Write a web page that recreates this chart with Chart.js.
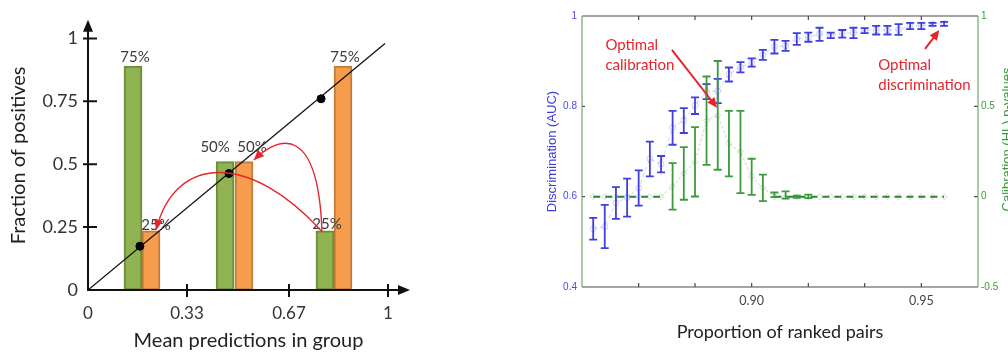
<!DOCTYPE html>
<html>
<head>
<meta charset="utf-8">
<title>Calibration and discrimination</title>
<script src="https://cdn.jsdelivr.net/npm/chart.js@4.4.1/dist/chart.umd.min.js"></script>
<style>
    html, body { margin: 0; padding: 0; background: #fff; overflow: hidden; }
    #wrap { position: relative; width: 1008px; height: 352px; }
    #calibChart { position: absolute; left: 0; top: 0; }
    #rankChart { position: absolute; left: 540px; top: 0; }
</style>
</head>
<body>
<div id="wrap">
    <canvas id="calibChart" width="440" height="352"></canvas>
    <canvas id="rankChart" width="468" height="352"></canvas>
</div>
<script>
// ---- left panel data (reliability diagram) ----
const greenX = [0.15, 0.457, 0.79];
const greenY = [0.89, 0.51, 0.235];
const greenLabels = ['75%', '50%', '25%'];
const orangeX = [0.21, 0.52, 0.85];
const orangeY = [0.235, 0.51, 0.89];
const orangeLabels = ['25%', '50%', '75%'];
const groupMeanX = [0.173, 0.47, 0.777];
const groupMeanY = [0.174, 0.463, 0.76];
const diagonalX = [0, 0.99];
const diagonalY = [0, 0.98];
const calibXTicks = [0, 0.33, 0.67, 1];
const calibXTickLabels = ['0', '0.33', '0.67', '1'];
const calibYTicks = [0, 0.25, 0.5, 0.75, 1];
const calibYTickLabels = ['0', '0.25', '0.5', '0.75', '1'];
// red curved arrows, control points in data units
const moveArrows = [
    [[0.78, 0.232], [0.54, 0.548], [0.29, 0.54], [0.227, 0.239]],
    [[0.78, 0.232], [0.767, 0.656], [0.64, 0.618], [0.553, 0.517]]
];

// ---- right panel data (AUC and HL p-values vs proportion of ranked pairs) ----
const rankedPairs = [0.8533, 0.8567, 0.86, 0.8633, 0.8667, 0.87, 0.8733, 0.8767,
    0.88, 0.8833, 0.8867, 0.89, 0.8933, 0.8967, 0.90, 0.9033,
    0.9067, 0.91, 0.9133, 0.9167, 0.92, 0.9233, 0.9267, 0.93,
    0.9333, 0.9367, 0.94, 0.9433, 0.9467, 0.95, 0.9533, 0.9567];
const aucMean = [0.529, 0.534, 0.586, 0.598, 0.619, 0.684, 0.672, 0.753,
    0.769, 0.802, 0.833, 0.834, 0.871, 0.887, 0.897, 0.914,
    0.932, 0.934, 0.949, 0.953, 0.960, 0.957, 0.961, 0.963,
    0.968, 0.969, 0.969, 0.970, 0.978, 0.978, 0.982, 0.983];
const aucLow = [0.505, 0.486, 0.551, 0.556, 0.580, 0.645, 0.654, 0.715,
    0.741, 0.783, 0.816, 0.807, 0.855, 0.875, 0.888, 0.903,
    0.917, 0.923, 0.936, 0.943, 0.945, 0.951, 0.952, 0.951,
    0.962, 0.959, 0.959, 0.958, 0.971, 0.971, 0.978, 0.978];
const aucHigh = [0.553, 0.582, 0.621, 0.640, 0.658, 0.722, 0.690, 0.790,
    0.796, 0.820, 0.849, 0.861, 0.886, 0.898, 0.906, 0.925,
    0.947, 0.945, 0.962, 0.963, 0.974, 0.963, 0.969, 0.974,
    0.973, 0.978, 0.978, 0.982, 0.985, 0.985, 0.985, 0.987];
const hlMean = [0, 0, 0, 0, 0, 0, 0, 0.057,
    0.129, 0.193, 0.421, 0.450, 0.294, 0.248, 0.110, 0.049,
    0, 0, 0, 0, 0, 0, 0, 0,
    0, 0, 0, 0, 0, 0, 0, 0];
const hlLow = [0, 0, 0, 0, 0, 0, 0, -0.072,
    -0.017, 0.001, 0.176, 0.149, 0.112, 0.020, 0.010, -0.025,
    -0.002, -0.011, -0.006, -0.008, 0, 0, 0, 0,
    0, 0, 0, 0, 0, 0, 0, 0];
const hlHigh = [0, 0, 0, 0, 0, 0, 0, 0.186,
    0.274, 0.385, 0.665, 0.751, 0.475, 0.475, 0.210, 0.122,
    0.023, 0.029, 0.005, 0.011, 0, 0, 0, 0,
    0, 0, 0, 0, 0, 0, 0, 0];
const rankXTicks = [0.90, 0.95];
const rankXTickLabels = ['0.90', '0.95'];
const rankXMarks = [0.8667, 0.8833, 0.90, 0.9167, 0.9333, 0.95];
const aucTicks = [0.4, 0.6, 0.8, 1];
const aucTickLabels = ['0.4', '0.6', '0.8', '1'];
const hlTicks = [-0.5, 0, 0.5, 1];
const hlTickLabels = ['-0.5', '0', '0.5', '1'];

const LEFT_FONT = 'Lato, "Open Sans", sans-serif';
const MATLAB_FONT = '"Liberation Sans", Arial, sans-serif';

function toPoints(xs, ys) {
    return xs.map((v, i) => ({ x: v, y: ys[i] }));
}

function setTicks(values) {
    return function(scale) {
        scale.ticks = values.map(v => ({ value: v }));
    };
}

function labelFor(values, labels) {
    return function(value) {
        const i = values.findIndex(v => Math.abs(v - value) < 1e-6);
        return i >= 0 ? labels[i] : '';
    };
}

function arrowHead(ctx, fromX, fromY, toX, toY, len, half) {
    const a = Math.atan2(toY - fromY, toX - fromX);
    ctx.beginPath();
    ctx.moveTo(toX, toY);
    ctx.lineTo(toX - len * Math.cos(a) + half * Math.sin(a), toY - len * Math.sin(a) - half * Math.cos(a));
    ctx.lineTo(toX - len * Math.cos(a) - half * Math.sin(a), toY - len * Math.sin(a) + half * Math.cos(a));
    ctx.closePath();
    ctx.fill();
}

// no chart.js grid, we draw our own axes
const noGrid = { display: false, drawTicks: false };

// axes with arrows, cross tick marks, bar labels and red arrows for the left panel
const calibDecor = {
    id: 'calibDecor',
    afterDatasetsDraw(chart) {
        const { ctx, chartArea, scales: { x, y } } = chart;
        const x0 = x.getPixelForValue(0);
        const y0 = y.getPixelForValue(0);
        ctx.save();

        // bar labels
        ctx.font = '15px ' + LEFT_FONT;
        ctx.fillStyle = '#3a3a3a';
        ctx.textAlign = 'center';
        ctx.textBaseline = 'alphabetic';
        const nudges = [[[2, 4], [-10, 10], [2, 2]], [[5, 1], [8, 10], [2, 4]]];
        [[0, greenLabels], [1, orangeLabels]].forEach(([di, labels]) => {
            chart.getDatasetMeta(di + 3).data.forEach((bar, i) => {
                const [dx, dy] = nudges[di][i];
                ctx.fillText(labels[i], bar.x + dx, bar.y - dy);
            });
        });

        // red curved arrows
        ctx.strokeStyle = '#e8232a';
        ctx.fillStyle = '#e8232a';
        ctx.lineWidth = 1.4;
        moveArrows.forEach(pts => {
            const p = pts.map(([vx, vy]) => [x.getPixelForValue(vx), y.getPixelForValue(vy)]);
            ctx.beginPath();
            ctx.moveTo(p[0][0], p[0][1]);
            ctx.bezierCurveTo(p[1][0], p[1][1], p[2][0], p[2][1], p[3][0], p[3][1]);
            ctx.stroke();
            arrowHead(ctx, p[2][0], p[2][1], p[3][0], p[3][1], 10, 4.5);
        });

        // axes
        ctx.strokeStyle = '#111';
        ctx.fillStyle = '#111';
        ctx.lineWidth = 2;
        ctx.beginPath();
        ctx.moveTo(x0 - 1, y0);
        ctx.lineTo(chartArea.right - 8, y0);
        ctx.moveTo(x0, y0 + 1);
        ctx.lineTo(x0, chartArea.top + 8);
        ctx.stroke();
        arrowHead(ctx, x0, y0, chartArea.right + 1, y0, 12, 5);
        arrowHead(ctx, x0, y0, x0, chartArea.top - 1, 12, 5);

        ctx.beginPath();
        calibYTicks.filter(v => v > 0).forEach(v => {
            const py = y.getPixelForValue(v);
            ctx.moveTo(x0 - 5, py);
            ctx.lineTo(x0 + 9, py);
        });
        calibXTicks.filter(v => v > 0).forEach(v => {
            const px = x.getPixelForValue(v);
            ctx.moveTo(px, y0 - 6);
            ctx.lineTo(px, y0 + 7);
        });
        ctx.stroke();
        ctx.restore();
    }
};

new Chart(document.getElementById('calibChart'), {
    type: 'bar',
    data: {
        datasets: [
            {
                type: 'line',
                data: toPoints(diagonalX, diagonalY),
                borderColor: '#111',
                borderWidth: 1.3,
                pointRadius: 0,
                order: 0
            },
            {
                type: 'scatter',
                data: toPoints(groupMeanX, groupMeanY),
                pointRadius: 4,
                pointBackgroundColor: '#000',
                pointBorderColor: '#000',
                order: 0
            },
            {
                // placeholder keeps bar datasets at fixed indices 3 and 4
                type: 'scatter',
                data: [],
                order: 0
            },
            {
                data: toPoints(greenX, greenY),
                backgroundColor: '#8fb350',
                borderColor: '#6c8c3a',
                borderWidth: 2,
                borderSkipped: false,
                barThickness: 18,
                grouped: false,
                order: 1
            },
            {
                data: toPoints(orangeX, orangeY),
                backgroundColor: '#f59d4c',
                borderColor: '#c47c3c',
                borderWidth: 2,
                borderSkipped: false,
                barThickness: 18,
                grouped: false,
                order: 1
            }
        ]
    },
    options: {
        responsive: false,
        animation: false,
        layout: { padding: { top: 13, right: 31, left: 0, bottom: 0 } },
        plugins: { legend: { display: false }, tooltip: { enabled: false } },
        scales: {
            x: {
                type: 'linear',
                min: 0,
                max: 1.07,
                offset: false,
                grid: noGrid,
                border: { display: false },
                afterBuildTicks: setTicks(calibXTicks),
                afterFit(scale) { scale.height = 62; },
                ticks: {
                    callback: labelFor(calibXTicks, calibXTickLabels),
                    color: '#333',
                    font: { family: LEFT_FONT, size: 17 },
                    padding: 13,
                    maxRotation: 0
                },
                title: {
                    display: true,
                    text: 'Mean predictions in group',
                    color: '#222',
                    font: { family: LEFT_FONT, size: 20, lineHeight: 1.1 },
                    padding: 0
                }
            },
            y: {
                type: 'linear',
                min: 0,
                max: 1.07,
                grid: noGrid,
                border: { display: false },
                afterBuildTicks: setTicks(calibYTicks),
                afterFit(scale) { scale.width = 88; },
                ticks: {
                    callback: labelFor(calibYTicks, calibYTickLabels),
                    color: '#333',
                    font: { family: LEFT_FONT, size: 18 },
                    padding: 10
                },
                title: {
                    display: true,
                    text: 'Fraction of positives',
                    color: '#222',
                    font: { family: LEFT_FONT, size: 20, lineHeight: 1.2 },
                    padding: { top: 7, bottom: 0 }
                }
            }
        }
    },
    plugins: [calibDecor]
});

// frame, tick marks, error bars and annotations for the right panel
const rankDecor = {
    id: 'rankDecor',
    afterDatasetsDraw(chart) {
        const { ctx, chartArea: ca, scales: { x, yAuc, yHl } } = chart;
        ctx.save();

        // error bars
        const bars = [
            { axis: yAuc, low: aucLow, high: aucHigh, color: '#3f3fe0' },
            { axis: yHl, low: hlLow, high: hlHigh, color: '#3c9a3c' }
        ];
        bars.forEach(b => {
            ctx.strokeStyle = b.color;
            ctx.lineWidth = 1.8;
            ctx.beginPath();
            rankedPairs.forEach((v, i) => {
                if (b.high[i] - b.low[i] <= 0) return;
                const px = x.getPixelForValue(v);
                const top = b.axis.getPixelForValue(b.high[i]);
                const bot = b.axis.getPixelForValue(b.low[i]);
                ctx.moveTo(px, top);
                ctx.lineTo(px, bot);
                ctx.moveTo(px - 4, top);
                ctx.lineTo(px + 4, top);
                ctx.moveTo(px - 4, bot);
                ctx.lineTo(px + 4, bot);
            });
            ctx.stroke();
        });

        // frame
        ctx.lineWidth = 1.2;
        ctx.strokeStyle = '#4a4a4a';
        ctx.beginPath();
        ctx.moveTo(ca.left, ca.top);
        ctx.lineTo(ca.right, ca.top);
        ctx.moveTo(ca.left, ca.bottom);
        ctx.lineTo(ca.right, ca.bottom);
        rankXMarks.forEach(v => {
            const px = x.getPixelForValue(v);
            ctx.moveTo(px, ca.top);
            ctx.lineTo(px, ca.top + 4);
            ctx.moveTo(px, ca.bottom);
            ctx.lineTo(px, ca.bottom - 4);
        });
        [0.6, 0.8].forEach(v => {
            const py = yAuc.getPixelForValue(v);
            ctx.moveTo(ca.left, py);
            ctx.lineTo(ca.left + 3, py);
        });
        [0, 0.5].forEach(v => {
            const py = yHl.getPixelForValue(v);
            ctx.moveTo(ca.right, py);
            ctx.lineTo(ca.right - 4, py);
        });
        ctx.stroke();
        ctx.strokeStyle = '#6aac6a';
        ctx.beginPath();
        ctx.moveTo(ca.left, ca.top);
        ctx.lineTo(ca.left, ca.bottom);
        ctx.moveTo(ca.right, ca.top);
        ctx.lineTo(ca.right, ca.bottom);
        ctx.stroke();

        // annotations
        ctx.fillStyle = '#e8232a';
        ctx.strokeStyle = '#e8232a';
        ctx.font = '15px ' + LEFT_FONT;
        ctx.textAlign = 'left';
        ctx.textBaseline = 'middle';
        const notes = [
            { at: [0.8569, 0.936], lines: ['Optimal', 'calibration'], from: [0.8765, 0.925], to: [0.8898, 0.797] },
            { at: [0.9373, 0.892], lines: ['Optimal', 'discrimination'], from: [0.9511, 0.927], to: [0.9553, 0.969] }
        ];
        notes.forEach(n => {
            const tx = x.getPixelForValue(n.at[0]);
            const ty = yAuc.getPixelForValue(n.at[1]);
            n.lines.forEach((s, i) => ctx.fillText(s, tx, ty + i * 20));
            const fx = x.getPixelForValue(n.from[0]), fy = yAuc.getPixelForValue(n.from[1]);
            const ex = x.getPixelForValue(n.to[0]), ey = yAuc.getPixelForValue(n.to[1]);
            ctx.lineWidth = 2;
            ctx.beginPath();
            ctx.moveTo(fx, fy);
            ctx.lineTo(ex - (ex - fx) * 0.12, ey - (ey - fy) * 0.12);
            ctx.stroke();
            arrowHead(ctx, fx, fy, ex, ey, 10, 4.5);
        });

        // right axis title, cut by the window edge like the original
        ctx.fillStyle = '#3c9a3c';
        ctx.font = '13px ' + MATLAB_FONT;
        ctx.textAlign = 'center';
        ctx.textBaseline = 'top';
        ctx.translate(chart.width - 7, (ca.top + ca.bottom) / 2 - 12);
        ctx.rotate(-Math.PI / 2);
        ctx.fillText('Calibration (HL) p-values', 0, 0);
        ctx.restore();
    }
};

new Chart(document.getElementById('rankChart'), {
    type: 'line',
    data: {
        datasets: [
            {
                label: 'Discrimination (AUC)',
                data: toPoints(rankedPairs, aucMean),
                yAxisID: 'yAuc',
                borderColor: 'rgba(120, 130, 230, 0.35)',
                borderWidth: 1,
                borderDash: [4, 3],
                pointStyle: 'circle',
                pointRadius: 3,
                pointBorderWidth: 1,
                pointBorderColor: 'rgba(120, 130, 230, 0.35)',
                pointBackgroundColor: 'rgba(255, 255, 255, 0)'
            },
            {
                label: 'Calibration (HL) p-values',
                data: toPoints(rankedPairs, hlMean),
                yAxisID: 'yHl',
                borderColor: 'rgba(140, 160, 140, 0.45)',
                borderWidth: 1,
                segment: {
                    borderColor: c => (c.p0.parsed.y === 0 && c.p1.parsed.y === 0) ? '#2f7f2f' : 'rgba(140, 160, 140, 0.45)',
                    borderWidth: c => (c.p0.parsed.y === 0 && c.p1.parsed.y === 0) ? 2 : 1,
                    borderDash: c => (c.p0.parsed.y === 0 && c.p1.parsed.y === 0) ? [7, 5] : [3, 2]
                },
                pointStyle: 'rectRot',
                pointRadius: 3,
                pointBorderWidth: 1,
                pointBorderColor: 'rgba(120, 170, 120, 0.4)',
                pointBackgroundColor: 'rgba(255, 255, 255, 0)'
            }
        ]
    },
    options: {
        responsive: false,
        animation: false,
        layout: { padding: { top: 16, right: 0, left: 0, bottom: 0 } },
        plugins: { legend: { display: false }, tooltip: { enabled: false } },
        scales: {
            x: {
                type: 'linear',
                min: 0.85,
                max: 0.9667,
                grid: noGrid,
                border: { display: false },
                afterBuildTicks: setTicks(rankXTicks),
                afterFit(scale) { scale.height = 65; },
                ticks: {
                    callback: labelFor(rankXTicks, rankXTickLabels),
                    color: '#444',
                    font: { family: LEFT_FONT, size: 12.5 },
                    padding: 6,
                    maxRotation: 0
                },
                title: {
                    display: true,
                    text: 'Proportion of ranked pairs',
                    color: '#222',
                    font: { family: LEFT_FONT, size: 18, lineHeight: 1.2 },
                    padding: { top: 0, bottom: 9 }
                }
            },
            yAuc: {
                type: 'linear',
                position: 'left',
                min: 0.4,
                max: 1,
                grid: noGrid,
                border: { display: false },
                afterBuildTicks: setTicks(aucTicks),
                afterFit(scale) { scale.width = 42; },
                ticks: {
                    callback: labelFor(aucTicks, aucTickLabels),
                    color: '#4848e8',
                    font: { family: MATLAB_FONT, size: 10 },
                    padding: 5
                },
                title: {
                    display: true,
                    text: 'Discrimination (AUC)',
                    color: '#3c3cdc',
                    font: { family: MATLAB_FONT, size: 13, lineHeight: 1.2 },
                    padding: { top: 5, bottom: 0 }
                }
            },
            yHl: {
                type: 'linear',
                position: 'right',
                min: -0.5,
                max: 1,
                grid: noGrid,
                border: { display: false },
                afterBuildTicks: setTicks(hlTicks),
                afterFit(scale) { scale.width = 30; },
                ticks: {
                    callback: labelFor(hlTicks, hlTickLabels),
                    color: '#3c9a3c',
                    font: { family: MATLAB_FONT, size: 10 },
                    padding: 3
                }
            }
        }
    },
    plugins: [rankDecor]
});
</script>
</body>
</html>
